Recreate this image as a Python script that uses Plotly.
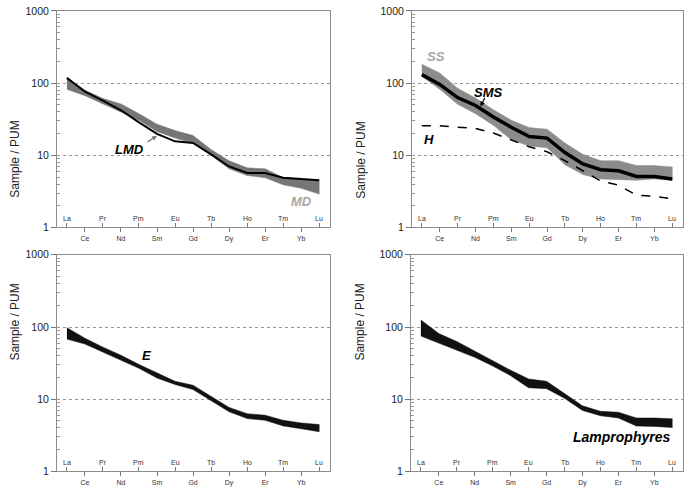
import numpy as np
import plotly.graph_objects as go

ree = ["La", "Ce", "Pr", "Nd", "Pm", "Sm", "Eu", "Gd", "Tb", "Dy", "Ho", "Er", "Tm", "Yb", "Lu"]
idx = list(range(len(ree)))

# top left: MD field + LMD
md_hi = [118, 80, 61, 51.5, 37.7, 27, 22, 18.8, 12, 8.4, 6.7, 6.5, 4.9, 4.7, 4.5]
md_lo = [82, 67, 51.5, 40, 30.6, 21.3, 17.3, 14.8, 10, 6.5, 5.25, 4.9, 3.9, 3.5, 2.9]
lmd = [118, 76, 57, 42, 28.5, 19.8, 15.6, 14.8, 10.3, 7.0, 5.7, 5.7, 4.9, 4.7, 4.5]

# top right: SS field + SMS + H
ss_hi = [182, 138, 85, 62, 42.8, 30.6, 24.2, 23, 14.8, 10.3, 8.4, 8.4, 7.2, 7.2, 6.9]
ss_lo = [124, 82, 51, 37.7, 26, 16.4, 13.4, 12.7, 7.4, 5.4, 4.7, 4.6, 4.5, 4.7, 4.5]
sms = [131, 96, 63, 49, 34, 24.4, 18.2, 17.3, 10.9, 7.6, 6.3, 6.1, 5.1, 5.1, 4.7]
h = [25.7, 25.7, 24.4, 23.6, 20.3, 16.4, 13.1, 11.2, 8.4, 6.1, 4.4, 3.85, 2.8, 2.7, 2.5]

# bottom left: E field
e_hi = [98, 70, 52.6, 40.5, 30.3, 22.9, 17.7, 15.6, 11.1, 7.7, 6.3, 6.0, 5.1, 4.7, 4.45]
e_lo = [68, 58, 45, 34.7, 26.8, 19.6, 16, 13.6, 9.5, 6.7, 5.4, 5.1, 4.27, 3.9, 3.55]

# bottom right: lamprophyres field
lam_hi = [125, 81, 63, 46, 34.4, 25.2, 19.1, 17.7, 12, 8.1, 6.8, 6.6, 5.5, 5.5, 5.35]
lam_lo = [75, 60, 48, 38, 28.9, 21.2, 14.4, 14, 10.3, 7.0, 5.9, 5.5, 4.25, 4.2, 4.05]

font = "Liberation Sans, Arial, sans-serif"
W, H = 685, 494

# panel boxes in pixels (left, right, top, bottom)
boxes = [(57, 330, 5, 227), (412, 683, 5, 227), (57, 330, 255, 477), (411, 683, 255, 477)]

fig = go.Figure()


def band(n, hi, lo, color):
    fig.add_trace(go.Scatter(x=idx + idx[::-1], y=hi + lo[::-1], fill="toself",
                             fillcolor=color, mode="lines", line=dict(color=color, width=0.5),
                             xaxis="x" + n, yaxis="y" + n, showlegend=False, hoverinfo="skip"))


def line(n, y, width, dash="solid"):
    fig.add_trace(go.Scatter(x=idx, y=y, mode="lines", line=dict(color="black", width=width, dash=dash),
                             xaxis="x" + n, yaxis="y" + n, showlegend=False))


band("", md_hi, md_lo, "#767676")
line("", lmd, 2)
band("2", ss_hi, ss_lo, "#8c8c8c")
line("2", h, 1.5, "dash")
line("2", sms, 3.5)
band("3", e_hi, e_lo, "#111111")
band("4", lam_hi, lam_lo, "#111111")

minor_vals = [m * 10 ** d for d in range(3) for m in range(2, 10)]
upper = idx[0::2]
lower = idx[1::2]
xr = [-0.55, 14.6]

for i, (l, r, t, b) in enumerate(boxes):
    n = "" if i == 0 else str(i + 1)
    dx = [l / W, r / W]
    dy = [(H - b) / H, (H - t) / H]
    fig.layout["xaxis" + n] = dict(domain=dx, anchor="y" + n, range=xr, showgrid=False, zeroline=False,
                                   tickvals=lower, ticktext=[ree[k] for k in lower],
                                   ticks="outside", ticklen=4, tickcolor="#777",
                                   tickfont=dict(size=7, color="#333"),
                                   minor=dict(tickvals=upper, ticks="inside", ticklen=4, tickcolor="#777"),
                                   showline=True, mirror=True, linecolor="#8c8c8c", linewidth=1)
    fig.layout["yaxis" + n] = dict(domain=dy, anchor="x" + n, type="log", range=[0, 3],
                                   tickvals=[1, 10, 100, 1000], ticktext=["1", "10", "100", "1000"],
                                   ticks="outside", ticklen=5, tickcolor="#777",
                                   tickfont=dict(size=10.5, color="#222"),
                                   showgrid=True, gridcolor="#999", griddash="dot", gridwidth=1,
                                   minor=dict(tickvals=minor_vals, ticks="inside", ticklen=3, tickcolor="#999"),
                                   zeroline=False, showline=True, mirror=True, linecolor="#8c8c8c", linewidth=1)
    # element labels sitting inside the box above the axis
    for k in upper:
        fig.add_annotation(text=ree[k], xref="x" + n, yref="y" + n + " domain", x=k, y=0,
                           yanchor="bottom", yshift=3, showarrow=False,
                           font=dict(size=7, color="#333"))
    fig.add_annotation(text="Sample / PUM", xref="paper", yref="paper", x=(l - 51) / W,
                       y=(H - (t + b) / 2) / H, textangle=-90, showarrow=False,
                       font=dict(size=12, color="#222"))


def lab(n, x, y, text, color="black", size=13, **kw):
    fig.add_annotation(text="<b><i>" + text + "</i></b>", xref="x" + n, yref="y" + n, x=x, y=np.log10(y),
                       showarrow=False, font=dict(size=size, color=color, family=font), **kw)


lab("", 3.45, 12.1, "LMD")
lab("", 13.0, 2.3, "MD", color="#a6a6a6")
lab("2", 0.78, 231, "SS", color="#a6a6a6")
lab("2", 3.74, 74, "SMS")
lab("2", 0.4, 16.4, "H")
lab("3", 4.4, 40.5, "E")
lab("4", 14.0, 2.97, "Lamprophyres", size=14, xanchor="right")

fig.add_annotation(x=5.0, y=np.log10(18.6), xref="x", yref="y", ax=-11, ay=7, text="", showarrow=True,
                   arrowhead=2, arrowsize=0.8, arrowwidth=1.2, arrowcolor="#777")
fig.add_annotation(x=3.28, y=np.log10(47.5), xref="x2", yref="y2", ax=5, ay=-10, text="", showarrow=True,
                   arrowhead=2, arrowsize=0.8, arrowwidth=1.2, arrowcolor="black")

fig.update_layout(width=W, height=H, margin=dict(l=0, r=0, t=0, b=0), plot_bgcolor="white",
                  paper_bgcolor="white", font=dict(family=font), showlegend=False)

fig.write_html("out.html", config={"displayModeBar": False},
               post_script="document.body.style.margin='0';")
